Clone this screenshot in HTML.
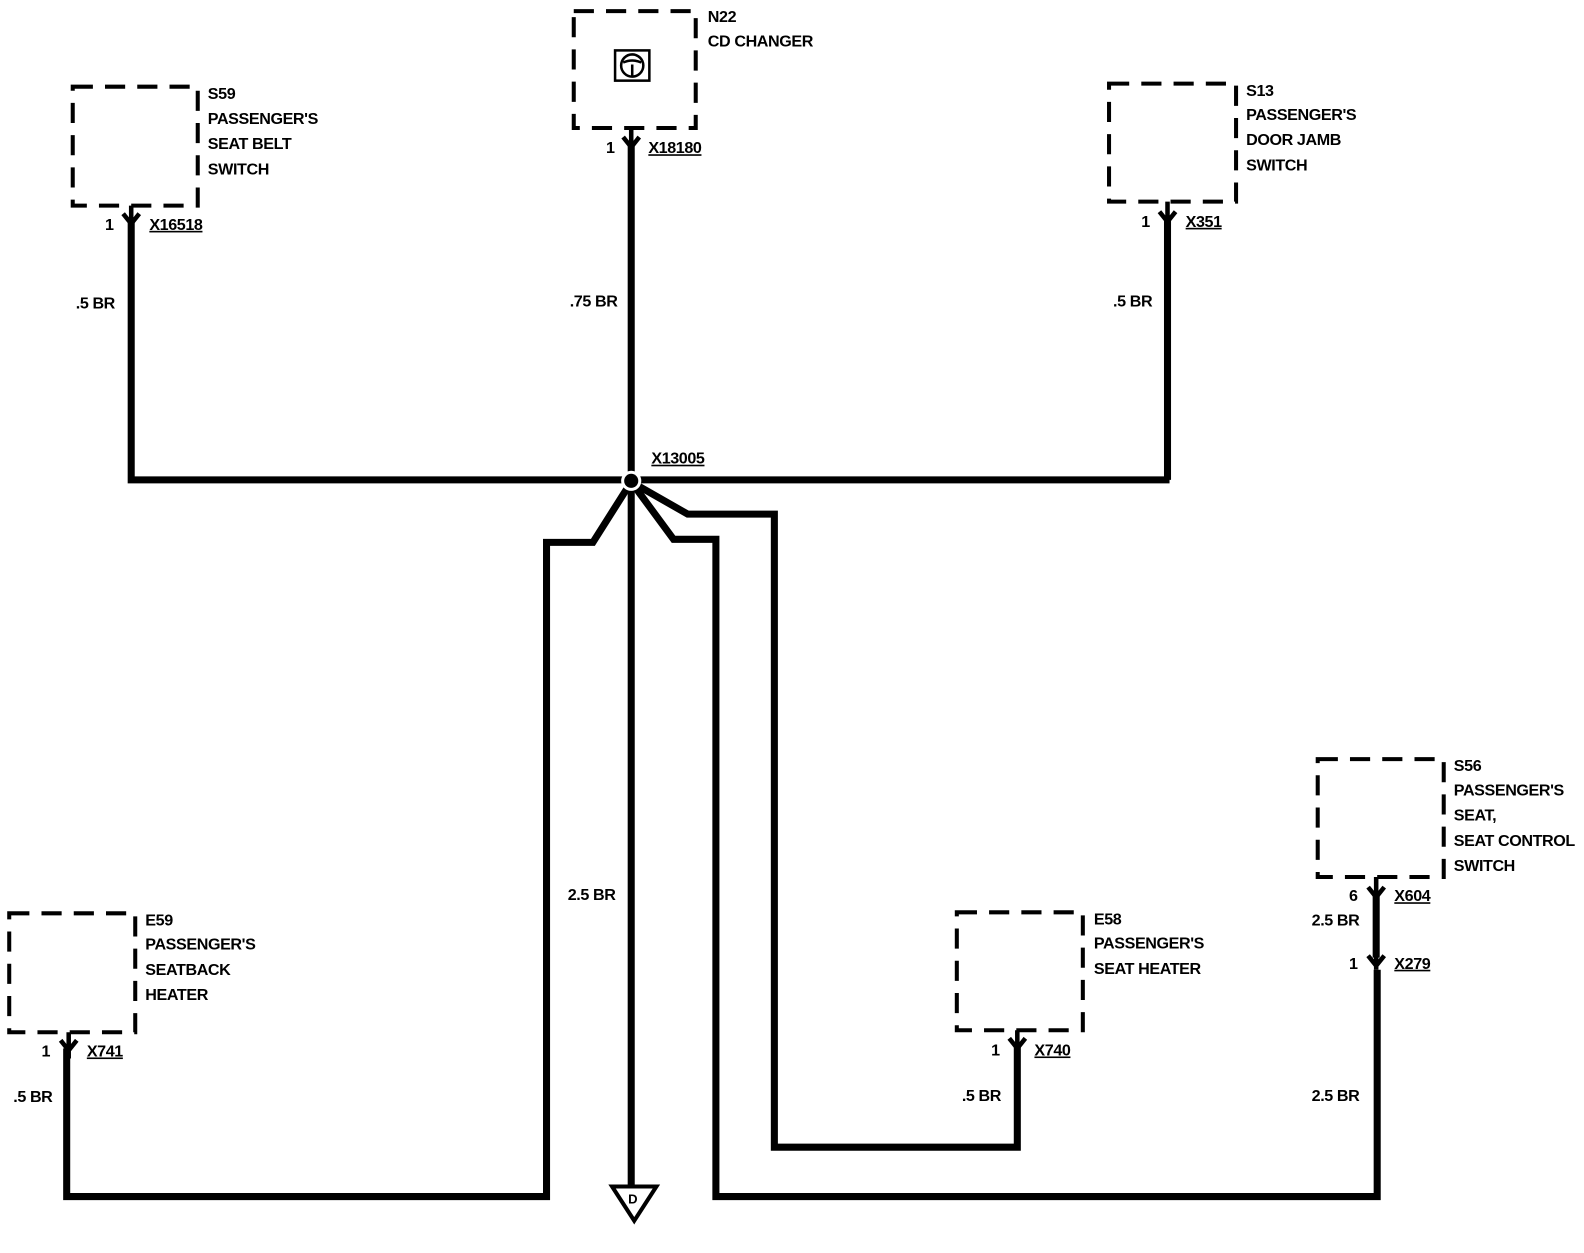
<!DOCTYPE html>
<html><head><meta charset="utf-8"><style>
html,body{margin:0;padding:0;background:#fff}
svg text{font-family:"Liberation Sans",Arial,sans-serif;font-weight:bold;font-size:16px;fill:#000;letter-spacing:-0.4px}
</style></head><body>
<svg width="1584" height="1248" viewBox="0 0 1571 1238" xmlns="http://www.w3.org/2000/svg">
<g fill="none" stroke="#000" stroke-width="4" stroke-dasharray="20,12">
<rect x="72" y="86" width="124" height="118"/>
<rect x="569" y="11" width="121" height="116"/>
<rect x="1100" y="83" width="126" height="117"/>
<rect x="9" y="906" width="125" height="118"/>
<rect x="949" y="905" width="125" height="117"/>
<rect x="1307" y="753" width="125" height="117"/>
</g>
<!-- CD icon -->
<rect x="610" y="50" width="34" height="30" fill="none" stroke="#000" stroke-width="2.5"/>
<circle cx="627" cy="65" r="11" fill="none" stroke="#000" stroke-width="2.5"/>
<path d="M618 62 Q627 58 636 62 M627 64 L627 75" fill="none" stroke="#000" stroke-width="2.5"/>
<!-- wires -->
<g fill="none" stroke="#000" stroke-width="7" stroke-linejoin="miter">
<path d="M130 220 V476 H1160"/>
<path d="M1158 218 V476"/>
<path d="M626 140 V1180"/>
<path d="M626 478 L588 538 H542 V1187 H66 V1040"/>
<path d="M626 478 L682 510 H768 V1138 H1009 V1038"/>
<path d="M626 478 L668 535 H710 V1187 H1366 V962"/>
<path d="M1365 884 V950"/>
</g>
<!-- connectors -->
<g fill="none" stroke="#000" stroke-width="4.5">
<path d="M130 204 V230 M122 212 L130 222 L138 212"/>
<path d="M626 127 V150 M618 136 L626 146 L634 136"/>
<path d="M1158 200 V226 M1150 210 L1158 220 L1166 210"/>
<path d="M68 1024 V1050 M60 1032 L68 1042 L76 1032"/>
<path d="M1009 1022 V1048 M1001 1030 L1009 1040 L1017 1030"/>
<path d="M1365 870 V894 M1357 880 L1365 890 L1373 880"/>
<path d="M1365 940 V962 M1357 948 L1365 958 L1373 948"/>
</g>
<!-- splice -->
<circle cx="626" cy="477" r="10" fill="#fff"/>
<circle cx="626" cy="477" r="7" fill="#000"/>
<!-- ground -->
<path d="M607 1177 H651 L629 1211 Z" fill="#fff" stroke="#000" stroke-width="4"/>
<text x="623" y="1194" style="font-size:13px">D</text>
<!-- labels -->
<text x="206" y="98">S59</text><text x="206" y="123">PASSENGER'S</text><text x="206" y="148">SEAT BELT</text><text x="206" y="173">SWITCH</text>
<text x="702" y="22">N22</text><text x="702" y="46">CD CHANGER</text>
<text x="1236" y="95">S13</text><text x="1236" y="119">PASSENGER'S</text><text x="1236" y="144">DOOR JAMB</text><text x="1236" y="169">SWITCH</text>
<text x="144" y="918">E59</text><text x="144" y="942">PASSENGER'S</text><text x="144" y="967">SEATBACK</text><text x="144" y="992">HEATER</text>
<text x="1085" y="917">E58</text><text x="1085" y="941">PASSENGER'S</text><text x="1085" y="966">SEAT HEATER</text>
<text x="1442" y="765">S56</text><text x="1442" y="789">PASSENGER'S</text><text x="1442" y="814">SEAT,</text><text x="1442" y="839">SEAT CONTROL</text><text x="1442" y="864">SWITCH</text>
<text x="104" y="228">1</text><text x="148" y="228" text-decoration="underline">X16518</text>
<text x="601" y="152">1</text><text x="643" y="152" text-decoration="underline">X18180</text>
<text x="1132" y="225">1</text><text x="1176" y="225" text-decoration="underline">X351</text>
<text x="41" y="1048">1</text><text x="86" y="1048" text-decoration="underline">X741</text>
<text x="983" y="1047">1</text><text x="1026" y="1047" text-decoration="underline">X740</text>
<text x="1338" y="894">6</text><text x="1383" y="894" text-decoration="underline">X604</text>
<text x="1338" y="961">1</text><text x="1383" y="961" text-decoration="underline">X279</text>
<text x="646" y="460" text-decoration="underline">X13005</text>
<text x="75" y="306">.5 BR</text>
<text x="565" y="304">.75 BR</text>
<text x="1104" y="304">.5 BR</text>
<text x="563" y="893">2.5 BR</text>
<text x="13" y="1093">.5 BR</text>
<text x="954" y="1092">.5 BR</text>
<text x="1301" y="918">2.5 BR</text>
<text x="1301" y="1092">2.5 BR</text>
</svg>
</body></html>
